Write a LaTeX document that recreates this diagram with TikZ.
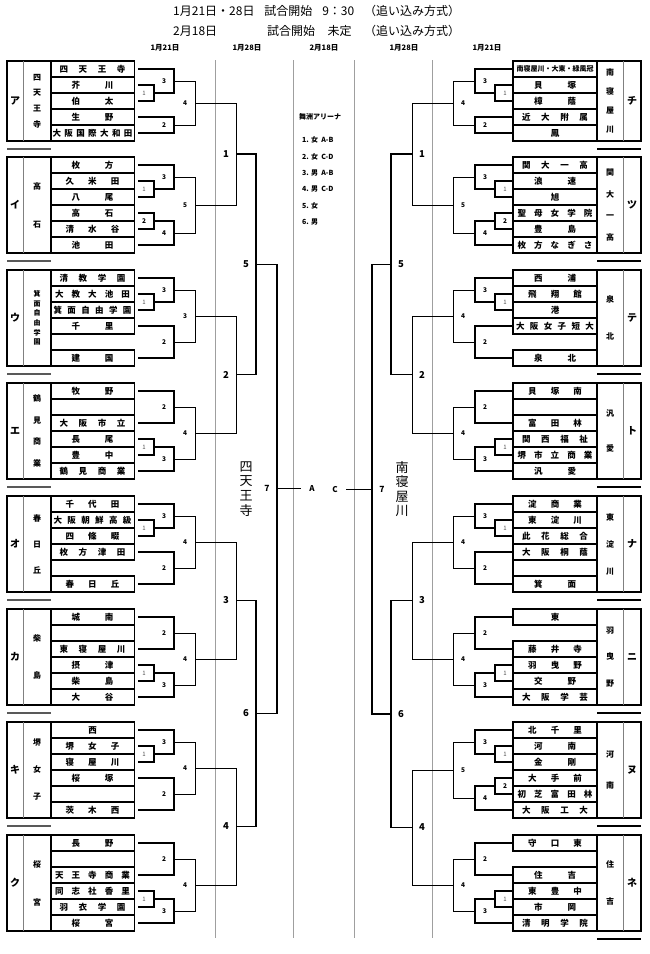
\documentclass[tikz,border=0pt]{standalone}
\usepackage{fontspec}
\setmainfont{Noto Sans CJK JP}
\usetikzlibrary{positioning,calc}

% 均等割り付け（#1 = 文字数）
\newcommand\spread[2]{\makebox[\ifcase\numexpr#1\relax 0\or 8.5\or 42\or 54\or 66\or 75\or 78\or 80\fi pt][s]{\spaceskip=1pt plus 1fil #2}}

% 組み合わせ線：#2(上)と#3(下)を列#4で結び，中点を#5に
\newcommand\bkt[7][br]{%
  \draw[#1] (#2) -- (#2 -| #4) -- (#3 -| #4) -- (#3);
  \path (#2 -| #4) -- (#3 -| #4) coordinate[pos=0.5] (#5);
  \node[#6] (#5-l) at (#5) {#7};
}

% ブロックの組み方
\newcommand\typeA[3]{%
  \bkt{#12.#3}{#13.#3}{x#21}{#1-b1}{s#2}{1}
  \bkt{#11.#3}{#1-b1}{x#22}{#1-b3}{n#2}{3}
  \bkt{#14.#3}{#15.#3}{x#22}{#1-b2}{n#2}{2}
  \bkt[brt]{#1-b3}{#1-b2}{x#23}{#1-top}{n#2}{4}
}
\newcommand\typeB[3]{%
  \bkt{#12.#3}{#13.#3}{x#21}{#1-b1}{s#2}{1}
  \bkt{#11.#3}{#1-b1}{x#22}{#1-b3}{n#2}{3}
  \bkt{#14.#3}{#15.#3}{x#21}{#1-b2}{n#2}{2}
  \bkt{#1-b2}{#16.#3}{x#22}{#1-b4}{n#2}{4}
  \bkt[brt]{#1-b3}{#1-b4}{x#23}{#1-top}{n#2}{5}
}
\newcommand\typeC[4]{%
  \bkt{#12.#3}{#13.#3}{x#21}{#1-b1}{s#2}{1}
  \bkt{#11.#3}{#1-b1}{x#22}{#1-b3}{n#2}{3}
  \bkt{#14.#3}{#16.#3}{x#22}{#1-b2}{n#2}{2}
  \bkt[brt]{#1-b3}{#1-b2}{x#23}{#1-top}{n#2}{#4}
}
\newcommand\typeD[3]{%
  \bkt{#11.#3}{#13.#3}{x#22}{#1-b2}{n#2}{2}
  \bkt{#14.#3}{#15.#3}{x#21}{#1-b1}{s#2}{1}
  \bkt{#1-b1}{#16.#3}{x#22}{#1-b3}{n#2}{3}
  \bkt[brt]{#1-b2}{#1-b3}{x#23}{#1-top}{n#2}{4}
}

% 枠・記号・学校名（縦書き）
\newcommand\frameL[7][]{%
  \draw[blockframe] (7,#3) rectangle (51,#4);
  \draw[divider] (23,#3) -- (23,#4);
  \node[letter] (#2-k) at (15,{(#3+#4)/2}) {#5};
  \node[school=#6,#1] (#2-s) at (37,{(#3+#4)/2}) {#7};
}
\newcommand\frameR[7][]{%
  \draw[blockframe] (597,#3) rectangle (641,#4);
  \draw[divider] (623,#3) -- (623,#4);
  \node[letter] (#2-k) at (632,{(#3+#4)/2}) {#5};
  \node[school=#6,#1] (#2-s) at (610,{(#3+#4)/2}) {#7};
}
\newcommand\namesL[3]{\foreach \row/\cnt/\nam in {#3}{\node[nameL] (#1\row) at (92.5,{#2+16*\row-8}) {\spread{\cnt}{\nam}};}}
\newcommand\namesR[3]{\foreach \row/\cnt/\nam in {#3}{\node[nameR] (#1\row) at (555,{#2+16*\row-8}) {\spread{\cnt}{\nam}};}}

\begin{document}
\begin{tikzpicture}[x=1pt, y=-1pt,
    br/.style={line width=1.2pt},
    brt/.style={line width=0.6pt},
    finline/.style={line width=1pt},
    daycol/.style={draw=gray!75, line width=0.8pt},
    blockframe/.style={line width=1.1pt},
    divider/.style={draw=gray, line width=0.6pt},
    sepL/.style={draw=gray!70!black, line width=1.3pt},
    sepR/.style={line width=1.3pt},
    namebox/.style={draw, line width=1.1pt, minimum height=16, inner sep=0, font=\bfseries\fontsize{8.5}{9}\selectfont},
    nameL/.style={namebox, minimum width=83.5, outer xsep=4},
    nameR/.style={namebox, minimum width=84, outer xsep=0},
    letter/.style={inner sep=0, font=\bfseries\fontsize{10}{10}\selectfont},
    school/.style={inner sep=0, align=center, font=\bfseries\fontsize{8}{#1}\selectfont},
    sL/.style={xshift=-10, inner sep=0, text=gray!60!black, font=\fontsize{6}{6}\selectfont},
    sR/.style={xshift=10, inner sep=0, text=gray!60!black, font=\fontsize{6}{6}\selectfont},
    nL/.style={xshift=-10, inner sep=0, font=\bfseries\fontsize{6.5}{7}\selectfont},
    nR/.style={xshift=10, inner sep=0, font=\bfseries\fontsize{6.5}{7}\selectfont},
    bigL/.style={xshift=-10, inner sep=0, font=\bfseries\fontsize{9.5}{10}\selectfont},
    bigR/.style={xshift=10, inner sep=0, font=\bfseries\fontsize{9.5}{10}\selectfont},
    sevL/.style={xshift=-10, inner sep=0, font=\bfseries\fontsize{8.5}{9}\selectfont},
    sevR/.style={xshift=10, inner sep=0, font=\bfseries\fontsize{8.5}{9}\selectfont},
    headline/.style={inner sep=0, anchor=west, font=\fontsize{12}{12}\selectfont},
    dayhead/.style={inner sep=0, font=\bfseries\fontsize{7.5}{8}\selectfont},
    arena/.style={inner sep=0, font=\bfseries\fontsize{7}{7}\selectfont},
    acmark/.style={inner sep=0, font=\bfseries\fontsize{8}{8}\selectfont},
    teamv/.style={inner sep=0, align=center, font=\fontsize{13}{14.6}\selectfont}
]
\useasboundingbox (0,0) rectangle (650,954);

% 見出し
\node[headline] (head1) at (173,11) {\makebox[287pt][s]{1月21日・28日 試合開始 9：30 （追い込み方式）}};
\node[headline] (head2a) at (173,31) {2月18日};
\node[headline] (head2b) at (267,31) {\makebox[193pt][s]{試合開始 未定 （追い込み方式）}};

% 日付と区切り
\foreach \x/\dtxt [count=\j] in {165/1月21日, 247/1月28日, 324/2月18日, 404/1月28日, 487/1月21日}
  \node[dayhead] (day\j) at (\x,48) {\dtxt};
\foreach \x in {215,293,354,432}
  \draw[daycol] (\x,60) -- (\x,938);

% 列の位置
\foreach \lv/\x in {1/154,2/174,3/195,4/236,5/256,6/277}
  \coordinate (xL\lv) at (\x,0);
\foreach \lv/\x in {1/495,2/475,3/453,4/412,5/391,6/372}
  \coordinate (xR\lv) at (\x,0);

% ===== 左側 =====
\frameL{a}{61}{141}{ア}{15.7}{四\\天\\王\\寺}
\namesL{a}{61}{1/4/四 天 王 寺, 2/2/芥 川, 3/2/伯 太, 4/2/生 野, 5/7/大 阪 国 際 大 和 田}
\typeA{a}{L}{east}

\frameL{i}{157}{253}{イ}{38}{高\\石}
\namesL{i}{157}{1/2/枚 方, 2/3/久 米 田, 3/2/八 尾, 4/2/高 石, 5/3/清 水 谷, 6/2/池 田}
\typeB{i}{L}{east}

\frameL[font=\bfseries\fontsize{7}{9.6}\selectfont]{u}{270}{366}{ウ}{9.6}{箕\\面\\自\\由\\学\\園}
\namesL{u}{270}{1/4/清 教 学 園, 2/5/大 教 大 池 田, 3/6/箕 面 自 由 学 園, 4/2/千 里, 6/2/建 国}
\typeC{u}{L}{east}{3}

\frameL{e}{383}{479}{エ}{21.7}{鶴\\見\\商\\業}
\namesL{e}{383}{1/2/牧 野, 2/0/, 3/4/大 阪 市 立, 4/2/長 尾, 5/2/豊 中, 6/4/鶴 見 商 業}
\typeD{e}{L}{east}

\frameL{o}{496}{592}{オ}{26}{春\\日\\丘}
\namesL{o}{496}{1/3/千 代 田, 2/6/大 阪 朝 鮮 高 級, 3/3/四 條 畷, 4/4/枚 方 津 田, 6/3/春 日 丘}
\typeC{o}{L}{east}{4}

\frameL{ka}{609}{705}{カ}{37}{柴\\島}
\namesL{ka}{609}{1/2/城 南, 2/0/, 3/4/東 寝 屋 川, 4/2/摂 津, 5/2/柴 島, 6/2/大 谷}
\typeD{ka}{L}{east}

\frameL{ki}{722}{818}{キ}{27}{堺\\女\\子}
\namesL{ki}{722}{1/1/西, 2/3/堺 女 子, 3/3/寝 屋 川, 4/2/桜 塚, 5/0/, 6/3/茨 木 西}
\typeC{ki}{L}{east}{4}

\frameL{ku}{835}{931}{ク}{38}{桜\\宮}
\namesL{ku}{835}{1/2/長 野, 2/0/, 3/5/天 王 寺 商 業, 4/5/同 志 社 香 里, 5/4/羽 衣 学 園, 6/2/桜 宮}
\typeD{ku}{L}{east}

\foreach \y in {149,261,374,487,600,713,826}
  \draw[sepL] (7,\y) -- (51,\y);

% 左側 1月28日以降
\bkt[brt]{a-top}{i-top}{xL4}{L1}{bigL}{1}
\bkt[brt]{u-top}{e-top}{xL4}{L2}{bigL}{2}
\bkt[brt]{o-top}{ka-top}{xL4}{L3}{bigL}{3}
\bkt[brt]{ki-top}{ku-top}{xL4}{L4}{bigL}{4}
\bkt{L1}{L2}{xL5}{L5}{bigL}{5}
\bkt{L3}{L4}{xL5}{L6}{bigL}{6}
\bkt{L5}{L6}{xL6}{L7}{sevL}{7}

% ===== 右側 =====
\frameR{chi}{61}{141}{チ}{18.7}{南\\寝\\屋\\川}
\node[nameR, font=\bfseries\fontsize{7}{7}\selectfont] (chi1) at (555,69) {南寝屋川・大東・緑風冠};
\namesR{chi}{61}{2/2/貝 塚, 3/2/樟 蔭, 4/4/近 大 附 属, 5/1/鳳}
\typeA{chi}{R}{west}

\frameR{tsu}{157}{253}{ツ}{21.7}{関\\大\\一\\高}
\namesR{tsu}{157}{1/4/関 大 一 高, 2/2/浪 速, 3/1/旭, 4/5/聖 母 女 学 院, 5/2/豊 島, 6/5/枚 方 な ぎ さ}
\typeB{tsu}{R}{west}

\frameR{te}{270}{366}{テ}{37}{泉\\北}
\namesR{te}{270}{1/2/西 浦, 2/3/飛 翔 館, 3/1/港, 4/6/大 阪 女 子 短 大, 6/2/泉 北}
\typeC{te}{R}{west}{4}

\frameR{to}{383}{479}{ト}{35}{汎\\愛}
\namesR{to}{383}{1/3/貝 塚 南, 2/0/, 3/3/富 田 林, 4/4/関 西 福 祉, 5/5/堺 市 立 商 業, 6/2/汎 愛}
\typeD{to}{R}{west}

\frameR{na}{496}{592}{ナ}{27}{東\\淀\\川}
\namesR{na}{496}{1/3/淀 商 業, 2/3/東 淀 川, 3/4/此 花 総 合, 4/4/大 阪 桐 蔭, 5/0/, 6/2/箕 面}
\typeC{na}{R}{west}{4}

\frameR{ni}{609}{705}{ニ}{26.5}{羽\\曳\\野}
\namesR{ni}{609}{1/1/東, 3/3/藤 井 寺, 4/3/羽 曳 野, 5/2/交 野, 6/4/大 阪 学 芸}
\typeD{ni}{R}{west}

\frameR{nu}{722}{818}{ヌ}{31}{河\\南}
\namesR{nu}{722}{1/3/北 千 里, 2/2/河 南, 3/2/金 剛, 4/3/大 手 前, 5/5/初 芝 富 田 林, 6/4/大 阪 工 大}
\typeB{nu}{R}{west}

\frameR{ne}{835}{931}{ネ}{37}{住\\吉}
\namesR{ne}{835}{1/3/守 口 東, 3/2/住 吉, 4/3/東 豊 中, 5/2/市 岡, 6/4/清 明 学 院}
\typeD{ne}{R}{west}

\foreach \y in {149,261,374,487,600,713,826,939}
  \draw[sepR] (597,\y) -- (641,\y);

% 右側 1月28日以降
\bkt[brt]{chi-top}{tsu-top}{xR4}{R1}{bigR}{1}
\bkt[brt]{te-top}{to-top}{xR4}{R2}{bigR}{2}
\bkt[brt]{na-top}{ni-top}{xR4}{R3}{bigR}{3}
\bkt[brt]{nu-top}{ne-top}{xR4}{R4}{bigR}{4}
\bkt{R1}{R2}{xR5}{R5}{bigR}{5}
\bkt{R3}{R4}{xR5}{R6}{bigR}{6}
\bkt{R5}{R6}{xR6}{R7}{sevR}{7}

% 決勝（2月18日）
\node[acmark] (acA) at ($(L7)+(35,0)$) {A};
\node[acmark] (acC) at ($(R7)+(-37,0)$) {C};
\draw[finline, shorten >=8.5pt] (L7) -- (L7 -| acA.west);
\draw[finline, shorten >=8pt] (R7) -- (R7 -| acC.east);
\node[teamv] (teamL) at ($(L7)+(-31,0)$) {四\\天\\王\\寺};
\node[teamv] (teamR) at ($(R7)+(30,0)$) {南\\寝\\屋\\川};

% 会場と試合順
\node[arena] (hall) at (320,117) {舞洲アリーナ};
\foreach \j/\gtxt in {1/1. 女\ \ A-B, 2/2. 女\ \ C-D, 3/3. 男\ \ A-B, 4/4. 男\ \ C-D, 5/5. 女, 6/6. 男}
  \node[arena, anchor=west] (game\j) at (302,{123.6+16.4*\j}) {\gtxt};

\end{tikzpicture}
\end{document}
